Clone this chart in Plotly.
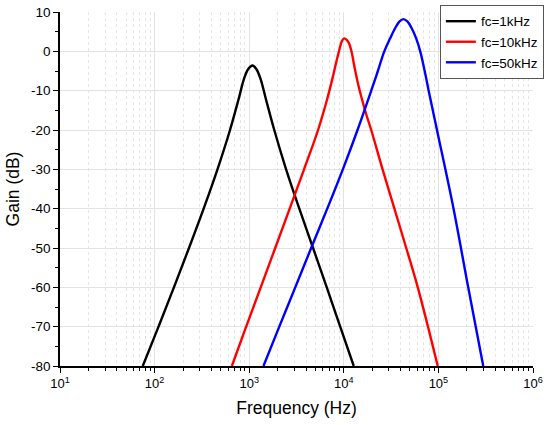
import plotly.graph_objects as go

# ---- data (frequency in Hz, gain in dB) ----
f_1k = [75, 110, 160, 231, 330, 462, 627, 776, 881, 977, 1084,
        1189, 1318, 1496, 1841, 2455, 3388, 4732, 6607, 9162, 12735]
g_1k = [-80, -70, -60, -50, -40, -30, -20, -12, -7, -4.5, -3.6,
        -4.5, -7, -12, -20, -30, -40, -50, -60, -70, -80]

f_10k = [656, 929, 1324, 1884, 2679, 3802, 5346, 6699, 7568, 8279, 8974,
         9506, 10069, 11092, 11940, 12972, 14223, 15488, 17258, 19498,
         25704, 34277, 45709, 60534, 77625, 98401]
g_10k = [-80, -70, -60, -50, -40, -30, -20, -12, -7, -3, 0.4,
         2.5, 3.3, 2.5, 0.4, -4, -8.5, -12, -16, -20,
         -30, -40, -50, -60, -70, -80]

f_50k = [1416, 2080, 3069, 4519, 6683, 9772, 13964, 19498, 22909, 26792,
         30903, 35075, 38905, 42658, 46989, 51880, 58210, 64269, 71614,
         78886, 96605, 144544, 206538, 297852]
g_50k = [-80, -70, -60, -50, -40, -30, -20, -10, -5, 0,
         3.3, 6, 7.6, 8.2, 7.6, 6, 3.3, 0, -5,
         -10, -20, -40, -60, -80]

series_names = ["fc=1kHz", "fc=10kHz", "fc=50kHz"]
series_colors = ["#000000", "#ff0000", "#0000ff"]

x_tick_vals = [1e1, 1e2, 1e3, 1e4, 1e5, 1e6]
x_tick_text = ["10<sup>1</sup>", "10<sup>2</sup>", "10<sup>3</sup>",
               "10<sup>4</sup>", "10<sup>5</sup>", "10<sup>6</sup>"]
y_tick_vals = [10, 0, -10, -20, -30, -40, -50, -60, -70, -80]
y_tick_text = ["10", "0", "-10", "-20", "-30", "-40", "-50", "-60", "-70", "-80"]

x_minor = [m * d for d in [1e1, 1e2, 1e3, 1e4, 1e5] for m in range(2, 10)]
y_minor = [v + 5 for v in y_tick_vals[1:]]

FONT = "Arial, Liberation Sans, sans-serif"

fig = go.Figure()
for fx, gy, name, col in zip([f_1k, f_10k, f_50k], [g_1k, g_10k, g_50k],
                             series_names, series_colors):
    fig.add_trace(go.Scatter(x=fx, y=gy, mode="lines", name=name,
                             line=dict(color=col, width=2.4, shape="spline",
                                       smoothing=1.0)))

fig.update_layout(
    width=550, height=425,
    margin=dict(l=60, r=17, t=12, b=59, autoexpand=False),
    paper_bgcolor="white", plot_bgcolor="white",
    font=dict(family=FONT, color="black", size=12),
    legend=dict(x=1.023, y=1.02, xanchor="right", yanchor="top",
                bordercolor="#555555", borderwidth=1, bgcolor="white",
                font=dict(size=13.5, family=FONT), tracegroupgap=0),
    showlegend=True,
)

fig.update_xaxes(
    type="log", range=[1, 6], automargin=False, ticklabeloverflow="allow",
    tickmode="array", tickvals=x_tick_vals, ticktext=x_tick_text,
    ticks="outside", ticklen=5, tickwidth=1.2, tickcolor="black",
    showline=True, linecolor="black", linewidth=1.5,
    showgrid=True, gridcolor="#e3e3e3", gridwidth=1,
    zeroline=False,
    tickfont=dict(size=13, family=FONT),
    minor=dict(tickmode="array", tickvals=x_minor, ticks="outside", ticklen=3,
               tickwidth=1, tickcolor="black", showgrid=True,
               gridcolor="#e6e6e6", griddash="dot", gridwidth=1),
    title=dict(text="Frequency (Hz)", font=dict(size=17.5, family=FONT), standoff=11),
)

fig.update_yaxes(
    range=[-80, 10], automargin=False, ticklabeloverflow="allow",
    tickmode="array", tickvals=y_tick_vals, ticktext=y_tick_text,
    ticks="outside", ticklen=5, tickwidth=1.2, tickcolor="black",
    showline=True, linecolor="black", linewidth=1.5,
    showgrid=True, gridcolor="#e3e3e3", gridwidth=1,
    zeroline=False,
    tickfont=dict(size=13.5, family=FONT),
    minor=dict(tickmode="array", tickvals=y_minor, ticks="outside", ticklen=3,
               tickwidth=1, tickcolor="black", showgrid=False),
    title=dict(text="Gain (dB)", font=dict(size=17.5, family=FONT), standoff=7),
)

# remove the browser's default 8px body margin so the figure fills the window
fig.write_html("out.html", config={"displayModeBar": False},
               post_script="document.body.style.margin='0';")
